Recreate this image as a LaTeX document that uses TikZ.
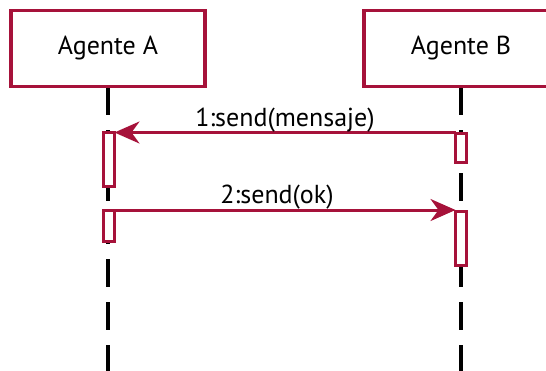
\documentclass[tikz,border=0pt]{standalone}
\usepackage{fontspec}
\setmainfont{PT Sans}
\usetikzlibrary{arrows.meta}
\definecolor{umlred}{RGB}{166,18,58}
\begin{document}
\begin{tikzpicture}[x=1pt,y=-1pt,
  font=\fontsize{26}{29}\selectfont,
  agent/.style={draw=umlred, line width=3.6pt, fill=white, rectangle,
    minimum width=194pt, minimum height=76pt, inner sep=0pt, outer sep=0pt},
  lifeline/.style={draw=black, line width=3.2pt, dash pattern=on 28pt off 15pt},
  activation/.style={draw=umlred, line width=2.8pt, fill=white, rectangle,
    minimum width=11pt, inner sep=0pt, outer sep=0pt},
  msg/.style={draw=umlred, line width=3pt,
    -{Stealth[length=25pt,width=22pt,inset=8pt]}},
  msglabel/.style={anchor=base, inner sep=0pt}]
\useasboundingbox (0,0) rectangle (546,370);
\clip (0,0) rectangle (546,370);

% lifelines first, so that boxes and activations sit on top
\coordinate (la) at (108,87);
\coordinate (lb) at (461,87);
\draw[lifeline] (la) -- (108,380);
\draw[lifeline] (lb) -- (461,380);

% participants
\node[agent] (A) at (108,48.5) {Agente A};
\node[agent] (B) at (461,48.5) {Agente B};

% activation bars
\node[activation, minimum height=54pt] (A1) at (109,159.5) {};
\node[activation, minimum height=31pt] (A2) at (109,226) {};
\node[activation, minimum height=29pt] (B1) at (461,148) {};
\node[activation, minimum height=54pt] (B2) at (461,238.5) {};

% messages
\draw[msg] ([yshift=1pt]B1.north west) -- ([yshift=1pt]B1.north west -| A1.north east);
\node[msglabel] (m1) at (285,126) {1:send(mensaje)};
\draw[msg] ([yshift=0.5pt]A2.north east) -- ([yshift=0.5pt]A2.north east -| B2.north west);
\node[msglabel] (m2) at (277,203) {2:send(ok)};
\end{tikzpicture}
\end{document}
